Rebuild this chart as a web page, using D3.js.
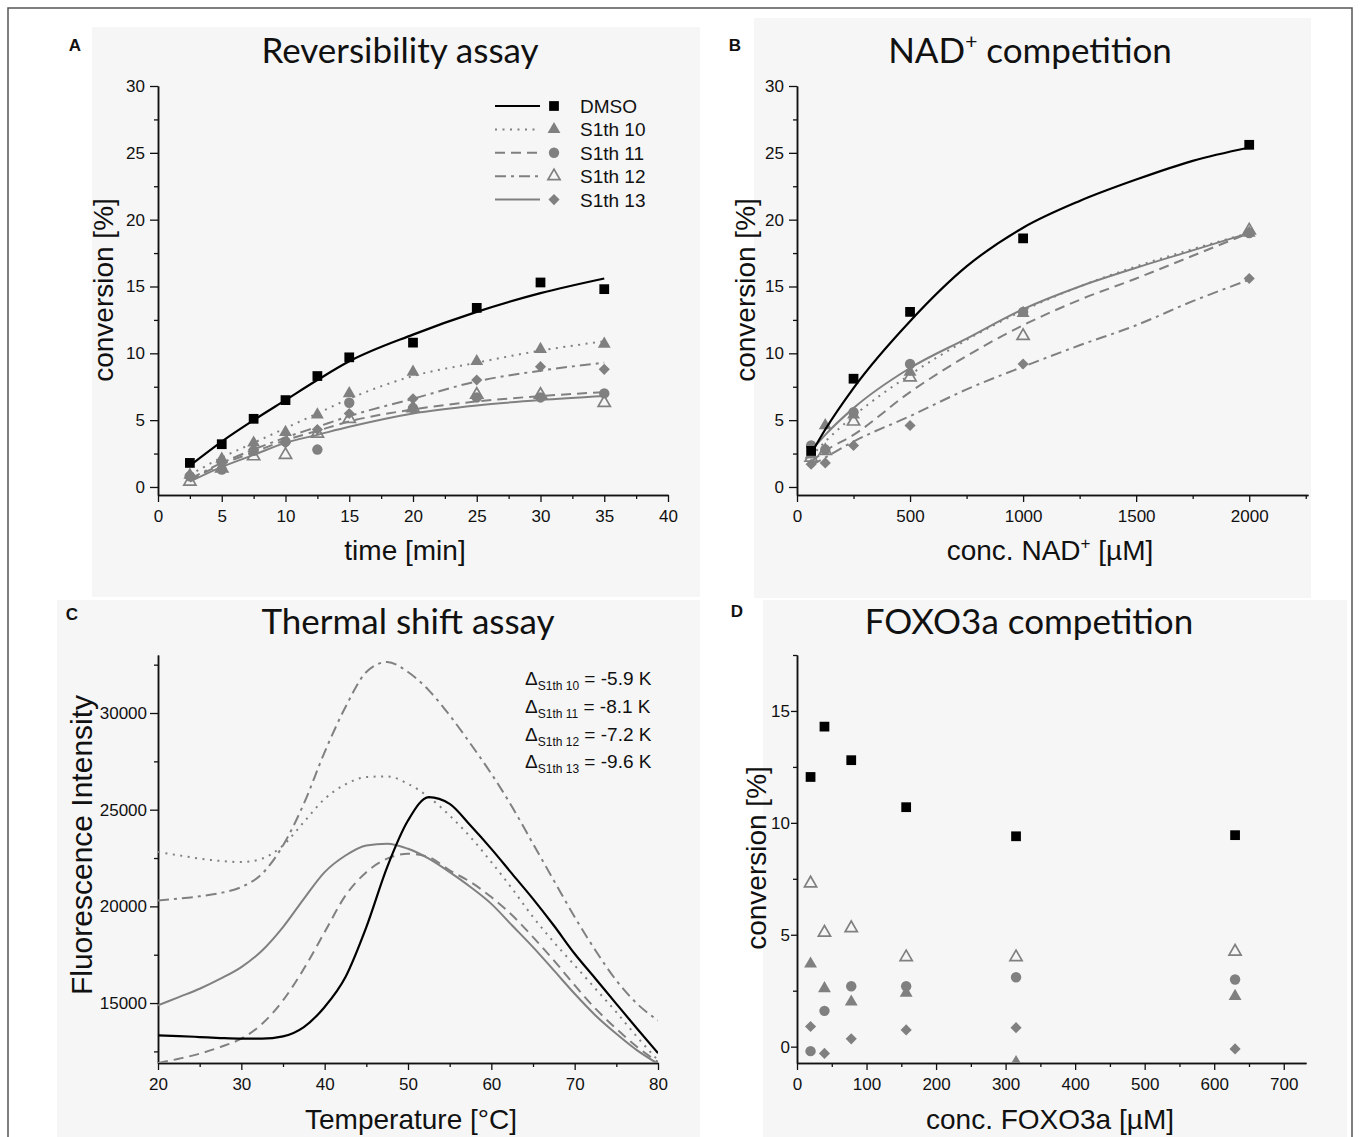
<!DOCTYPE html>
<html>
<head>
<meta charset="utf-8">
<script src="https://cdn.jsdelivr.net/npm/d3@7"></script>
<style>
  body { margin: 0; background: #fff; }
  svg text { font-family: "Liberation Sans", Arial, sans-serif; fill: #111; }
  .axis .domain { stroke: #111; stroke-width: 1.5; }
  .axis line { stroke: #111; stroke-width: 1.3; }
  .axis text { font-family: "Liberation Sans", Arial, sans-serif; font-size: 17px; fill: #111; }
  .title { font-family: Lato, "Open Sans", sans-serif !important; font-size: 35px; }
  .plabel { font-weight: bold; font-size: 17px; }
  .alabel { font-size: 28px; }
</style>
</head>
<body>
<div id="chart"></div>
<script>

// ---- A: reversibility assay ----
var timeA = [2.5, 5, 7.5, 10, 12.5, 15, 20, 25, 30, 35];
var dmsoA = [1.8, 3.2, 5.1, 6.5, 8.3, 9.7, 10.8, 13.4, 15.3, 14.8];
var s10A  = [0.9, 2.1, 3.3, 4.1, 5.4, 7.0, 8.6, 9.4, 10.3, 10.7];
var s11A  = [0.8, 1.3, 2.7, 3.4, 2.8, 6.3, 5.9, 6.7, 6.7, 7.0];
var s12A  = [0.4, 1.4, 2.3, 2.4, 4.0, 5.1, 5.9, 6.9, 6.9, 6.3];
var s13A  = [0.9, 1.8, 2.8, 3.3, 4.3, 5.5, 6.6, 8.0, 9.0, 8.8];
// fitted curves at the same times
var dmsoFitA = [1.6, 3.4, 5.0, 6.5, 8.0, 9.4, 11.4, 13.1, 14.5, 15.6];
var s10FitA  = [0.9, 2.2, 3.3, 4.4, 5.5, 6.6, 8.3, 9.3, 10.2, 10.9];
var s11FitA  = [0.5, 1.7, 2.6, 3.5, 4.2, 4.9, 5.8, 6.4, 6.8, 7.1];
var s12FitA  = [0.6, 1.8, 2.8, 3.7, 4.5, 5.3, 6.6, 7.9, 8.7, 9.3];
var s13FitA  = [0.4, 1.5, 2.4, 3.3, 3.9, 4.5, 5.5, 6.1, 6.5, 6.8];

// ---- B: NAD+ competition ----
var concB     = [62.5, 125, 250, 500, 1000, 2000];
var concDmsoB = [62.5, 250, 500, 1000, 2000];
var dmsoB = [2.7, 8.1, 13.1, 18.6, 25.6];
var s10B  = [2.4, 4.6, 5.4, 8.6, 13.0, 19.0];
var s11B  = [3.1, 2.8, 5.6, 9.2, 13.1, 19.0];
var s12B  = [2.2, 2.7, 4.9, 8.2, 11.3, 19.2];
var s13B  = [1.7, 1.8, 3.1, 4.6, 9.2, 15.6];
var concFitB = [62.5, 125, 250, 500, 750, 1000, 1250, 1500, 1750, 2000];
var dmsoFitB = [2.5, 4.3, 7.4, 12.4, 16.5, 19.4, 21.4, 23.0, 24.4, 25.4];
var s10FitB  = [2.3, 3.4, 5.3, 8.4, 11.0, 13.2, 15.0, 16.5, 17.8, 19.0];
var s11FitB  = [1.9, 2.7, 3.9, 7.1, 9.8, 12.1, 14.0, 15.6, 17.3, 19.0];
var s12FitB  = [1.6, 2.2, 3.4, 5.3, 7.3, 9.0, 10.6, 12.1, 13.9, 15.5];
var s13FitB  = [2.7, 3.9, 5.9, 8.9, 11.1, 13.3, 15.0, 16.4, 17.7, 19.0];

// ---- C: thermal shift assay ----
var tempC = [20, 22.5, 25, 27.5, 30, 32.5, 35, 37.5, 40, 42.5, 45, 47.5, 50,
             52.5, 55, 57.5, 60, 62.5, 65, 67.5, 70, 72.5, 75, 77.5, 80];
var dmsoC = [13330, 13295, 13243, 13190, 13157, 13157, 13278, 13760, 14800, 16350, 18930, 22030, 24440,
             25650, 25300, 24180, 22975, 21680, 20390, 19010, 17550, 16260, 14960, 13670, 12410];
var s10C  = [22810, 22640, 22470, 22350, 22290, 22470, 23150, 24360, 25560, 26310, 26690, 26720, 26340,
             25650, 24700, 23580, 22290, 20910, 19450, 18150, 16950, 15740, 14530, 13240, 12040];
var s11C  = [11900, 12120, 12380, 12730, 13160, 13930, 15140, 16770, 18670, 20560, 21770, 22470, 22720,
             22550, 21860, 21260, 20480, 19540, 18410, 17210, 15920, 14710, 13670, 12730, 11950];
var s12C  = [20310, 20400, 20520, 20690, 21000, 21690, 23150, 25310, 27980, 30310, 32120, 32640, 32120,
             31170, 29880, 28410, 26860, 25140, 23240, 21340, 19450, 17720, 16170, 14960, 14100];
var s13C  = [14880, 15310, 15740, 16260, 16860, 17720, 18930, 20390, 21770, 22630, 23150, 23240, 22980,
             22470, 21770, 21000, 20130, 19010, 17890, 16690, 15480, 14360, 13410, 12550, 11860];
var deltaNames  = ["S1th 10", "S1th 11", "S1th 12", "S1th 13"];
var deltaValues = ["-5.9", "-8.1", "-7.2", "-9.6"];

// ---- D: FOXO3a competition ----
var concD = [19.5, 39.5, 78, 157, 315, 630];
var dmsoD = [12.05, 14.3, 12.8, 10.7, 9.4, 9.45];
var s10D  = [3.7, 2.6, 2.0, 2.4, -0.7, 2.25];
var s11D  = [-0.2, 1.6, 2.7, 2.7, 3.1, 3.0];
var s12D  = [7.3, 5.1, 5.3, 4.0, 4.0, 4.25];
var s13D  = [0.9, -0.3, 0.35, 0.75, 0.85, -0.1];

var seriesNames = ["DMSO", "S1th 10", "S1th 11", "S1th 12", "S1th 13"];

var grey = "#808080";
var styles = {
    "DMSO":    { color: "#000", dash: null,       width: 2.2, symbol: "square" },
    "S1th 10": { color: grey,   dash: "2,5.5",    width: 2,   symbol: "triangle" },
    "S1th 11": { color: grey,   dash: "10,6",     width: 2,   symbol: "circle" },
    "S1th 12": { color: grey,   dash: "11,5,3,5", width: 2,   symbol: "open" },
    "S1th 13": { color: grey,   dash: null,       width: 2,   symbol: "diamond" }
};

var svg = d3.select("#chart").append("svg")
    .attr("width", 1360)
    .attr("height", 1137);

// frame and faint panel backgrounds
svg.append("rect")
    .attr("x", 8).attr("y", 8).attr("width", 1344).attr("height", 1140)
    .attr("fill", "#fff").attr("stroke", "#555").attr("stroke-width", 1.5);

[[92, 27, 608, 570], [754, 18, 557, 580], [57, 600, 643, 537], [763, 600, 584, 537]]
    .forEach(function (b) {
        svg.append("rect")
            .attr("x", b[0]).attr("y", b[1]).attr("width", b[2]).attr("height", b[3])
            .attr("fill", "#f6f6f6");
    });

function symbolPath(kind) {
    if (kind === "square") return d3.symbol(d3.symbolSquare, 95)();
    if (kind === "circle") return d3.symbol(d3.symbolCircle, 85)();
    if (kind === "diamond") return d3.symbol(d3.symbolSquare, 62)();
    return d3.symbol(d3.symbolTriangle, kind === "open" ? 64 : 72)();
}

function drawPoints(g, xs, ys, x, y, name) {
    var st = styles[name];
    g.selectAll(null)
        .data(xs.map(function (d, i) { return [d, ys[i]]; }))
        .join("path")
        .attr("transform", function (d) {
            return "translate(" + x(d[0]) + "," + y(d[1]) + ")" + (st.symbol === "diamond" ? " rotate(45)" : "");
        })
        .attr("d", symbolPath(st.symbol))
        .attr("fill", st.symbol === "open" ? "none" : st.color)
        .attr("stroke", st.symbol === "open" ? st.color : "none")
        .attr("stroke-width", 1.7);
}

function drawFit(g, xs, ys, x, y, name) {
    var st = styles[name];
    g.append("path")
        .datum(xs.map(function (d, i) { return [d, ys[i]]; }))
        .attr("fill", "none")
        .attr("stroke", st.color)
        .attr("stroke-width", st.width)
        .attr("stroke-dasharray", st.dash)
        .attr("d", d3.line()
            .x(function (d) { return x(d[0]); })
            .y(function (d) { return y(d[1]); })
            .curve(d3.curveMonotoneX));
}

function drawAxes(x, y, xMajor, xMinor, yMajor, yMinor, yPad, yTick) {
    var bottom = y.range()[0], left = x.range()[0];
    var fmt = d3.format("d");
    svg.append("g").attr("class", "axis").attr("transform", "translate(0," + bottom + ")")
        .call(d3.axisBottom(x).tickValues(xMinor).tickSize(4).tickSizeOuter(0).tickFormat(""));
    svg.append("g").attr("class", "axis").attr("transform", "translate(0," + bottom + ")")
        .call(d3.axisBottom(x).tickValues(xMajor).tickSize(7).tickSizeOuter(0).tickPadding(8).tickFormat(fmt));
    svg.append("g").attr("class", "axis").attr("transform", "translate(" + left + ",0)")
        .call(d3.axisLeft(y).tickValues(yMinor).tickSize(4).tickSizeOuter(0).tickFormat(""));
    svg.append("g").attr("class", "axis").attr("transform", "translate(" + left + ",0)")
        .call(d3.axisLeft(y).tickValues(yMajor).tickSize(yTick || 8).tickSizeOuter(0).tickPadding(yPad).tickFormat(fmt));
}

function title(cx, cy, txt, sup, rest) {
    var t = svg.append("text").attr("class", "title")
        .attr("x", cx).attr("y", cy).attr("text-anchor", "middle").text(txt);
    if (sup) {
        t.append("tspan").attr("dy", -14).style("font-size", "21px").text(sup);
        t.append("tspan").attr("dy", 14).text(rest);
    }
}

function panelLabel(x, y, txt) {
    svg.append("text").attr("class", "plabel").attr("x", x).attr("y", y)
        .attr("text-anchor", "middle").text(txt);
}

function yLabel(x, y, txt, size) {
    svg.append("text").attr("class", "alabel")
        .attr("transform", "translate(" + x + "," + y + ") rotate(-90)")
        .attr("text-anchor", "middle")
        .style("font-size", size ? size + "px" : null)
        .text(txt);
}

function xLabel(x, y, txt, sup, rest) {
    var t = svg.append("text").attr("class", "alabel")
        .attr("x", x).attr("y", y).attr("text-anchor", "middle").text(txt);
    if (sup) {
        t.append("tspan").attr("dy", -11).style("font-size", "17px").text(sup);
        t.append("tspan").attr("dy", 11).text(rest);
    }
}

function stepTicks(a, b, step) {
    return d3.range(a, b + step / 2, step);
}

// ================= Panel A =================
var xA = d3.scaleLinear().domain([0, 40]).range([158, 668]);
var yA = d3.scaleLinear().domain([-0.6, 30]).range([495, 86]);
drawAxes(xA, yA, stepTicks(0, 40, 5), stepTicks(2.5, 37.5, 5), stepTicks(0, 30, 5), stepTicks(2.5, 27.5, 5), 5);

var gA = svg.append("g");
drawFit(gA, timeA, s13FitA, xA, yA, "S1th 13");
drawFit(gA, timeA, s11FitA, xA, yA, "S1th 11");
drawFit(gA, timeA, s12FitA, xA, yA, "S1th 12");
drawFit(gA, timeA, s10FitA, xA, yA, "S1th 10");
drawPoints(gA, timeA, s13A, xA, yA, "S1th 13");
drawPoints(gA, timeA, s11A, xA, yA, "S1th 11");
drawPoints(gA, timeA, s10A, xA, yA, "S1th 10");
drawPoints(gA, timeA, s12A, xA, yA, "S1th 12");
drawFit(gA, timeA, dmsoFitA, xA, yA, "DMSO");
drawPoints(gA, timeA, dmsoA, xA, yA, "DMSO");

// legend
var legend = svg.append("g").attr("transform", "translate(495,106)");
seriesNames.forEach(function (name, i) {
    var st = styles[name];
    var row = legend.append("g").attr("transform", "translate(0," + (i * 23.4) + ")");
    row.append("line").attr("x1", 0).attr("x2", 45).attr("y1", 0).attr("y2", 0)
        .attr("stroke", st.color).attr("stroke-width", st.width).attr("stroke-dasharray", st.dash);
    row.append("path")
        .attr("transform", "translate(59,0)" + (st.symbol === "diamond" ? " rotate(45)" : ""))
        .attr("d", symbolPath(st.symbol))
        .attr("fill", st.symbol === "open" ? "none" : st.color)
        .attr("stroke", st.symbol === "open" ? st.color : "none")
        .attr("stroke-width", 1.7);
    row.append("text").attr("x", 85).attr("y", 7).style("font-size", "19px").text(name);
});

title(400, 63, "Reversibility assay");
panelLabel(75, 51, "A");
yLabel(113, 290, "conversion [%]");
xLabel(405, 560, "time [min]");

// ================= Panel B =================
var xB = d3.scaleLinear().domain([0, 2260]).range([797, 1308]);
var yB = d3.scaleLinear().domain([-0.6, 30]).range([495, 86]);
drawAxes(xB, yB, stepTicks(0, 2000, 500), stepTicks(250, 2250, 500), stepTicks(0, 30, 5), stepTicks(2.5, 27.5, 5), 5);

var gB = svg.append("g");
drawFit(gB, concFitB, s12FitB, xB, yB, "S1th 12");
drawFit(gB, concFitB, s11FitB, xB, yB, "S1th 11");
drawFit(gB, concFitB, s10FitB, xB, yB, "S1th 10");
drawFit(gB, concFitB, s13FitB, xB, yB, "S1th 13");
drawPoints(gB, concB, s13B, xB, yB, "S1th 13");
drawPoints(gB, concB, s12B, xB, yB, "S1th 12");
drawPoints(gB, concB, s10B, xB, yB, "S1th 10");
drawPoints(gB, concB, s11B, xB, yB, "S1th 11");
drawFit(gB, concFitB, dmsoFitB, xB, yB, "DMSO");
drawPoints(gB, concDmsoB, dmsoB, xB, yB, "DMSO");

title(1030, 63, "NAD", "+", " competition");
panelLabel(735, 51, "B");
yLabel(755, 290, "conversion [%]");
xLabel(1050, 560, "conc. NAD", "+", " [\u00b5M]");

// ================= Panel C =================
var xC = d3.scaleLinear().domain([20, 80]).range([158, 658]);
var yC = d3.scaleLinear().domain([11900, 33000]).range([1063, 655]);
drawAxes(xC, yC, stepTicks(20, 80, 10), stepTicks(25, 75, 10), stepTicks(15000, 30000, 5000), stepTicks(12500, 32500, 5000), 3);

var clipC = svg.append("clipPath").attr("id", "clipC");
clipC.append("rect").attr("x", 158).attr("y", 655).attr("width", 500).attr("height", 408);
var gC = svg.append("g").attr("clip-path", "url(#clipC)");
drawFit(gC, tempC, s12C, xC, yC, "S1th 12");
drawFit(gC, tempC, s10C, xC, yC, "S1th 10");
drawFit(gC, tempC, s11C, xC, yC, "S1th 11");
drawFit(gC, tempC, s13C, xC, yC, "S1th 13");
drawFit(gC, tempC, dmsoC, xC, yC, "DMSO");

deltaNames.forEach(function (name, i) {
    var t = svg.append("text").attr("x", 525).attr("y", 685 + i * 27.8).style("font-size", "19px");
    t.append("tspan").text("\u0394");
    t.append("tspan").attr("dy", 5).style("font-size", "12px").text(name);
    t.append("tspan").attr("dy", -5).text(" = " + deltaValues[i] + " K");
});

title(408, 634, "Thermal shift assay");
panelLabel(72, 620, "C");
yLabel(92, 845, "Fluorescence Intensity", 30);
xLabel(411, 1129, "Temperature [\u00b0C]");

// ================= Panel D =================
var xD = d3.scaleLinear().domain([0, 732]).range([797, 1306]);
var yD = d3.scaleLinear().domain([-0.73, 17.5]).range([1063, 655]);
drawAxes(xD, yD, stepTicks(0, 700, 100), stepTicks(50, 700, 100), stepTicks(0, 15, 5), stepTicks(2.5, 17.5, 5), 1, 6);

var clipD = svg.append("clipPath").attr("id", "clipD");
clipD.append("rect").attr("x", 797).attr("y", 650).attr("width", 515).attr("height", 413);
var gD = svg.append("g").attr("clip-path", "url(#clipD)");
drawPoints(gD, concD, s13D, xD, yD, "S1th 13");
drawPoints(gD, concD, s11D, xD, yD, "S1th 11");
drawPoints(gD, concD, s10D, xD, yD, "S1th 10");
drawPoints(gD, concD, s12D, xD, yD, "S1th 12");
drawPoints(gD, concD, dmsoD, xD, yD, "DMSO");

title(1029, 634, "FOXO3a competition");
panelLabel(737, 617, "D");
yLabel(766, 858, "conversion [%]");
xLabel(1050, 1129, "conc. FOXO3a [\u00b5M]");

</script>
</body>
</html>
